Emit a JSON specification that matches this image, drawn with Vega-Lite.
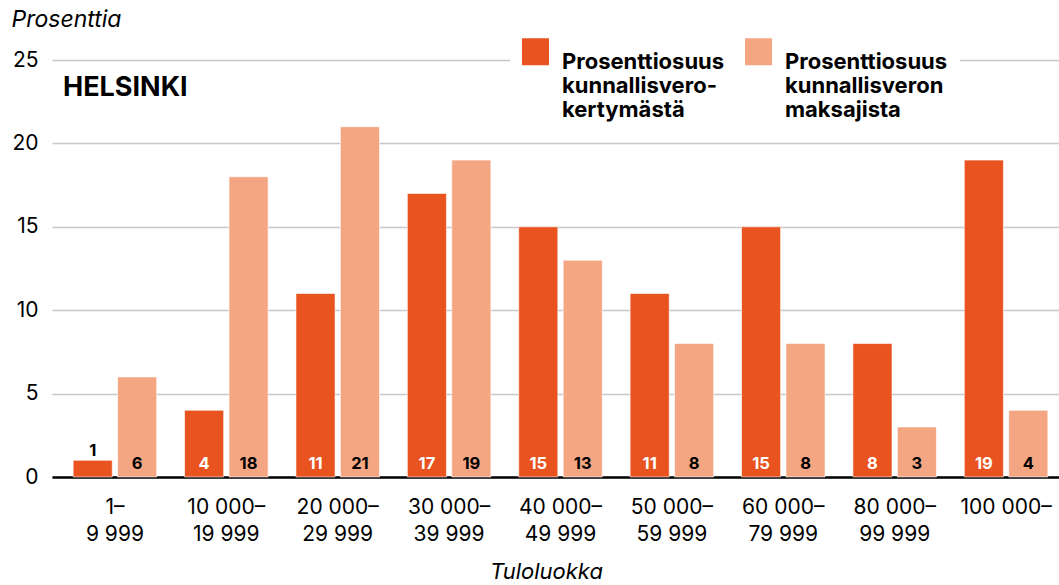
{
  "$schema": "https://vega.github.io/schema/vega-lite/v6.json",
  "width": 1007,
  "height": 417,
  "autosize": {"type": "none"},
  "padding": {"left": 52, "top": 60, "right": 0, "bottom": 108},
  "background": "white",
  "config": {"font": "Inter", "view": {"stroke": null}},
  "title": {"text": "HELSINKI", "anchor": "start", "frame": "group", "fontSize": 27, "fontWeight": "bold", "color": "black", "offset": 0, "dx": 11, "dy": 115, "baseline": "alphabetic"},
  "data": {"values": [
    {"luokka": "1–|9 999", "sarja": "Prosenttiosuus|kunnallisvero-|kertymästä", "arvo": 1},
    {"luokka": "1–|9 999", "sarja": "Prosenttiosuus|kunnallisveron|maksajista", "arvo": 6},
    {"luokka": "10 000–|19 999", "sarja": "Prosenttiosuus|kunnallisvero-|kertymästä", "arvo": 4},
    {"luokka": "10 000–|19 999", "sarja": "Prosenttiosuus|kunnallisveron|maksajista", "arvo": 18},
    {"luokka": "20 000–|29 999", "sarja": "Prosenttiosuus|kunnallisvero-|kertymästä", "arvo": 11},
    {"luokka": "20 000–|29 999", "sarja": "Prosenttiosuus|kunnallisveron|maksajista", "arvo": 21},
    {"luokka": "30 000–|39 999", "sarja": "Prosenttiosuus|kunnallisvero-|kertymästä", "arvo": 17},
    {"luokka": "30 000–|39 999", "sarja": "Prosenttiosuus|kunnallisveron|maksajista", "arvo": 19},
    {"luokka": "40 000–|49 999", "sarja": "Prosenttiosuus|kunnallisvero-|kertymästä", "arvo": 15},
    {"luokka": "40 000–|49 999", "sarja": "Prosenttiosuus|kunnallisveron|maksajista", "arvo": 13},
    {"luokka": "50 000–|59 999", "sarja": "Prosenttiosuus|kunnallisvero-|kertymästä", "arvo": 11},
    {"luokka": "50 000–|59 999", "sarja": "Prosenttiosuus|kunnallisveron|maksajista", "arvo": 8},
    {"luokka": "60 000–|79 999", "sarja": "Prosenttiosuus|kunnallisvero-|kertymästä", "arvo": 15},
    {"luokka": "60 000–|79 999", "sarja": "Prosenttiosuus|kunnallisveron|maksajista", "arvo": 8},
    {"luokka": "80 000–|99 999", "sarja": "Prosenttiosuus|kunnallisvero-|kertymästä", "arvo": 8},
    {"luokka": "80 000–|99 999", "sarja": "Prosenttiosuus|kunnallisveron|maksajista", "arvo": 3},
    {"luokka": "100 000–", "sarja": "Prosenttiosuus|kunnallisvero-|kertymästä", "arvo": 19},
    {"luokka": "100 000–", "sarja": "Prosenttiosuus|kunnallisveron|maksajista", "arvo": 4}
  ]},
  "encoding": {
    "x": {
      "field": "luokka", "type": "nominal", "sort": null, "title": "Tuloluokka",
      "scale": {"range": [0, 1017], "paddingInner": 0.25, "paddingOuter": 0.19},
      "axis": {
        "labelAngle": 0, "labelExpr": "split(datum.label, '|')", "labelFontSize": 21, "labelColor": "black",
        "labelPadding": 19, "labelLineHeight": 27, "domainColor": "black", "domainWidth": 2.5, "ticks": false,
        "titleFontSize": 22, "titleFontStyle": "italic", "titleFontWeight": "normal", "titleColor": "black",
        "titleX": 494, "titleY": 101, "titleAlign": "center", "titleBaseline": "alphabetic"
      }
    },
    "xOffset": {"field": "sarja", "type": "nominal", "sort": null, "scale": {"paddingInner": 0.12, "paddingOuter": 0}}
  },
  "layer": [
    {
      "mark": {"type": "bar", "stroke": "white", "strokeWidth": 1, "strokeOpacity": 0.6},
      "encoding": {
        "y": {
          "field": "arvo", "type": "quantitative", "title": "Prosenttia",
          "scale": {"domain": [0, 25], "nice": false},
          "axis": {
            "values": [0, 5, 10, 15, 20, 25], "domain": false, "ticks": false, "grid": true,
            "gridColor": "#c8c8c8", "gridWidth": 1.5, "labelFontSize": 21, "labelColor": "black", "labelPadding": 14,
            "titleAngle": 0, "titleX": -41, "titleY": -34, "titleAlign": "left", "titleBaseline": "alphabetic",
            "titleFontStyle": "italic", "titleFontWeight": "normal", "titleFontSize": 23, "titleColor": "black"
          }
        },
        "color": {
          "field": "sarja", "type": "nominal", "sort": null,
          "scale": {"range": ["#E8531F", "#F4A683"]},
          "legend": {
            "orient": "none", "legendX": 458, "legendY": -34, "direction": "horizontal", "title": null,
            "symbolType": "square", "symbolSize": 729, "symbolStrokeWidth": 0, "symbolOpacity": 1,
            "labelFontSize": 22, "labelFontWeight": "bold", "labelColor": "black", "labelLimit": 300,
            "labelOffset": 13, "labelExpr": "split(datum.label, '|')", "labelBaseline": "top",
            "columnPadding": 20, "fillColor": "white", "padding": 12,
            "encode": {"labels": {"update": {"lineHeight": {"value": 29}, "dy": {"value": -9}}}}
          }
        }
      }
    },
    {
      "transform": [{"filter": "datum.arvo >= 2"}],
      "mark": {"type": "text", "baseline": "alphabetic", "dy": -8, "fontWeight": "bold", "fontSize": 16.5},
      "encoding": {
        "y": {"datum": 0, "type": "quantitative", "title": "Prosenttia"},
        "text": {"field": "arvo"},
        "color": {"condition": {"test": "indexof(datum.sarja, 'kertym') >= 0", "value": "white"}, "value": "black"}
      }
    },
    {
      "transform": [{"filter": "datum.arvo < 2"}],
      "mark": {"type": "text", "baseline": "alphabetic", "dy": -4, "fontWeight": "bold", "fontSize": 16.5, "color": "black"},
      "encoding": {
        "y": {"field": "arvo", "type": "quantitative", "title": "Prosenttia"},
        "text": {"field": "arvo"}
      }
    }
  ]
}
